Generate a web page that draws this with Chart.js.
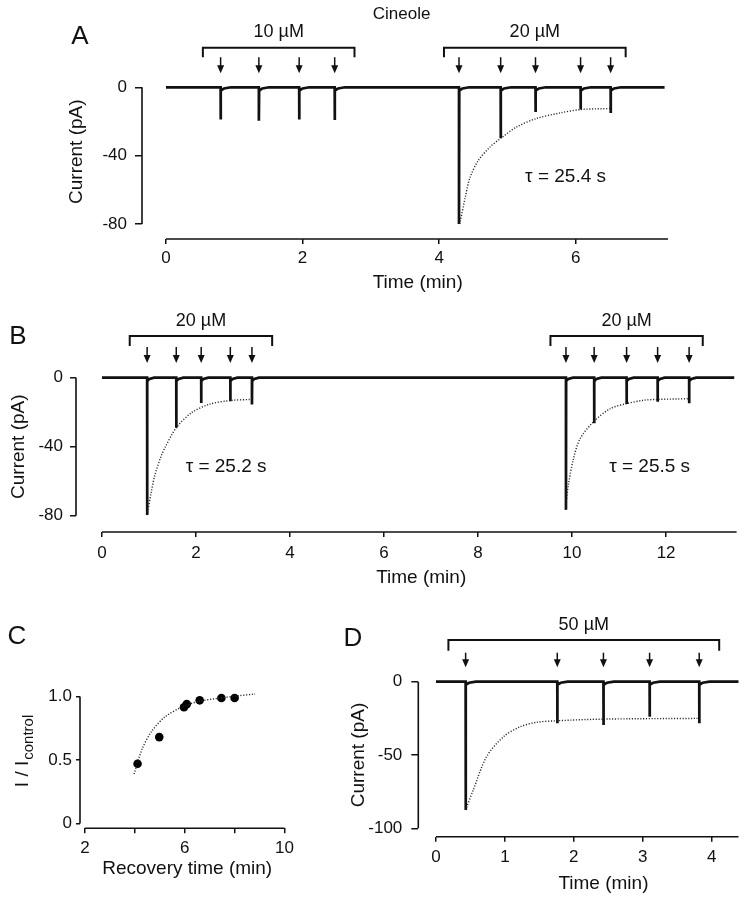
<!DOCTYPE html>
<html>
<head>
<meta charset="utf-8">
<script src="https://cdn.jsdelivr.net/npm/chart.js@4/dist/chart.umd.min.js"></script>
<style>
  body { margin: 0; background: #fff; }
  #fig { position: relative; width: 746px; height: 899px; overflow: hidden; }
  canvas { position: absolute; }
  .letter { position: absolute; font: 26px "Liberation Sans", Arial, sans-serif; color: #111; transform: translate(-50%, -50%); }
</style>
</head>
<body>
<div id="fig">
  <canvas id="chartA" width="690" height="300" style="left:0px;top:0px"></canvas>
  <canvas id="chartB" width="746" height="300" style="left:0px;top:290px"></canvas>
  <canvas id="chartC" width="320" height="299" style="left:0px;top:600px"></canvas>
  <canvas id="chartD" width="416" height="309" style="left:330px;top:590px"></canvas>
  <div class="letter" style="left:80px;top:35px">A</div>
  <div class="letter" style="left:18px;top:335px">B</div>
  <div class="letter" style="left:17px;top:635px">C</div>
  <div class="letter" style="left:353px;top:637px">D</div>
</div>
<script>
const FONT = '"Liberation Sans", Arial, Helvetica, sans-serif';
Chart.defaults.font.family = FONT;
Chart.defaults.color = '#111';

// ---- Panel A: cineole 10 uM and 20 uM (time in min, current in pA)
const spikeTimesA = [0.80, 1.36, 1.95, 2.47, 4.29, 4.90, 5.41, 6.07, 6.51];
const spikePeaksA = [-18.8, -19.6, -18.8, -19.2, -80, -29.6, -14.4, -13, -15];
const fitTimesA = [4.30, 4.38, 4.45, 4.57, 4.74, 4.91, 5.13, 5.42, 5.77, 6.08, 6.52];
const fitCurrentA = [-80, -64.7, -52.9, -43, -35.1, -29.6, -23.3, -18.3, -15, -13, -12.4];
const bracketsA = [[0.54, 2.76], [4.07, 6.73]];
const bracketLabelsA = ['10 µM', '20 µM'];
const xTicksA = [0, 2, 4, 6];
const yTicksA = [0, -40, -80];

// ---- Panel B: two 20 uM applications
const spikeTimesB = [0.96, 1.58, 2.11, 2.73, 3.19, 9.87, 10.47, 11.16, 11.82, 12.49];
const spikePeaksB = [-79.6, -29, -14.6, -13.6, -15.5, -76.5, -26.4, -15.3, -13.9, -14.8];
const fitTimesB1 = [0.96, 1.05, 1.12, 1.25, 1.35, 1.58, 1.9, 2.27, 2.73, 3.19];
const fitCurrentB1 = [-79.6, -66, -57, -46, -40, -29, -20.4, -15.5, -13.2, -12.6];
const fitTimesB2 = [9.86, 9.92, 10.03, 10.17, 10.45, 10.81, 11.15, 11.52, 11.8, 12.48];
const fitCurrentB2 = [-76.5, -62.4, -47, -35.4, -25.7, -18, -15.1, -13.1, -12.6, -12.2];
const bracketsB = [[0.59, 3.62], [9.54, 12.78]];
const bracketLabelsB = ['20 µM', '20 µM'];
const xTicksB = [0, 2, 4, 6, 8, 10, 12];
const yTicksB = [0, -40, -80];

// ---- Panel C: recovery
const recoveryTime = [4.11, 4.98, 5.97, 6.08, 6.6, 7.47, 8.0];
const recoveryRatio = [0.47, 0.68, 0.915, 0.94, 0.97, 0.988, 0.988];
const fitTimesC = [3.97, 4.3, 4.69, 5.21, 5.87, 6.52, 7.31, 8.1, 8.82];
const fitRatioC = [0.39, 0.59, 0.73, 0.84, 0.915, 0.96, 0.985, 1.005, 1.02];
const xTicksC = [2, 4, 6, 8, 10];
const xLabelsC = [2, 6, 10];
const yTicksC = [0, 0.5, 1.0];

// ---- Panel D: 50 uM
const spikeTimesD = [0.43, 1.76, 2.43, 3.1, 3.82];
const spikePeaksD = [-87.5, -28.4, -29.5, -23.9, -28.4];
const fitTimesD = [0.43, 0.54, 0.735, 0.98, 1.22, 1.46, 1.76, 2.43, 3.82];
const fitCurrentD = [-87.5, -73.9, -51, -37.5, -30.7, -27.7, -26.6, -25.5, -25];
const bracketsD = [[0.18, 4.11]];
const bracketLabelsD = ['50 µM'];
const xTicksD = [0, 1, 2, 3, 4];
const yTicksD = [0, -50, -100];

function pairs(xs, ys) {
  return xs.map((x, i) => ({ x: x, y: ys[i] }));
}

// recording trace: flat baseline with a fast inward spike at each application
function buildTrace(times, peaks, tEnd) {
  const pts = [{ x: 0, y: 0 }];
  times.forEach((t, i) => {
    pts.push({ x: t, y: 0 }, { x: t, y: peaks[i] }, { x: t + 0.004, y: -2 },
             { x: t + 0.05, y: -0.7 }, { x: t + 0.15, y: 0 });
  });
  pts.push({ x: tEnd, y: 0 });
  return pts;
}

function traceSet(data) {
  return { data: data, borderColor: '#111', borderWidth: 2.7, pointRadius: 0, tension: 0 };
}
function fitSet(data) {
  return { data: data, borderColor: '#222', borderWidth: 1.4, borderDash: [1.1, 1.7], pointRadius: 0, tension: 0.3 };
}

function panelPlugin(cfg) {
  return {
    id: 'panel',
    afterDraw(chart) {
      const ctx = chart.ctx, xs = chart.scales.x, ys = chart.scales.y;
      const px = v => xs.getPixelForValue(v), py = v => ys.getPixelForValue(v);
      const area = chart.chartArea;
      ctx.save();
      ctx.strokeStyle = '#111';
      ctx.fillStyle = '#111';
      // axis spines (bounded to the data range)
      ctx.lineWidth = 1.6;
      ctx.beginPath();
      ctx.moveTo(px(cfg.xSpine[0]), area.bottom);
      ctx.lineTo(px(cfg.xSpine[1]), area.bottom);
      ctx.moveTo(area.left, py(cfg.ySpine[0]));
      ctx.lineTo(area.left, py(cfg.ySpine[1]));
      ctx.stroke();
      // application brackets
      ctx.lineWidth = 2;
      ctx.textAlign = 'center';
      ctx.textBaseline = 'middle';
      ctx.font = '18px ' + FONT;
      (cfg.brackets || []).forEach((b, i) => {
        ctx.beginPath();
        ctx.moveTo(px(b[0]), py(cfg.bracketFoot));
        ctx.lineTo(px(b[0]), py(cfg.bracketTop));
        ctx.lineTo(px(b[1]), py(cfg.bracketTop));
        ctx.lineTo(px(b[1]), py(cfg.bracketFoot));
        ctx.stroke();
        ctx.fillText(cfg.bracketLabels[i], px((b[0] + b[1]) / 2), py(cfg.labelY));
      });
      // arrows
      ctx.lineWidth = 1.5;
      (cfg.arrows || []).forEach(t => {
        const x = px(t), y0 = py(cfg.arrowTop), y1 = py(cfg.arrowTip);
        ctx.beginPath();
        ctx.moveTo(x, y0);
        ctx.lineTo(x, y1 - 6);
        ctx.stroke();
        ctx.beginPath();
        ctx.moveTo(x - 3.5, y1 - 8);
        ctx.lineTo(x + 3.5, y1 - 8);
        ctx.lineTo(x, y1);
        ctx.closePath();
        ctx.fill();
      });
      // free notes
      (cfg.notes || []).forEach(n => {
        ctx.font = (n.size || 19) + 'px ' + FONT;
        ctx.fillText(n.text, px(n.x), py(n.y));
      });
      // axis titles
      ctx.font = '19px ' + FONT;
      ctx.fillText(cfg.xTitle.text, px(cfg.xTitle.x), area.bottom + cfg.xTitle.dy);
      ctx.translate(area.left - cfg.yTitle.dx, py(cfg.yTitle.y));
      ctx.rotate(-Math.PI / 2);
      if (cfg.yTitle.sub) {
        ctx.font = '19px ' + FONT;
        const wm = ctx.measureText(cfg.yTitle.text).width;
        ctx.font = '15px ' + FONT;
        const wsub = ctx.measureText(cfg.yTitle.sub).width;
        const x0 = -(wm + wsub) / 2;
        ctx.textAlign = 'left';
        ctx.font = '19px ' + FONT;
        ctx.fillText(cfg.yTitle.text, x0, 0);
        ctx.font = '15px ' + FONT;
        ctx.fillText(cfg.yTitle.sub, x0 + wm + 1, 6);
      } else {
        ctx.fillText(cfg.yTitle.text, 0, 0);
      }
      ctx.restore();
    }
  };
}

function makePanel(id, cfg) {
  return new Chart(document.getElementById(id), {
    type: 'line',
    data: { datasets: cfg.datasets },
    options: {
      responsive: false,
      animation: false,
      layout: { padding: 0 },
      plugins: { legend: { display: false }, tooltip: { enabled: false } },
      scales: {
        x: {
          type: 'linear', min: cfg.xMin, max: cfg.xMax,
          afterBuildTicks: s => { s.ticks = cfg.xTicks.map(v => ({ value: v })); },
          afterFit: s => { s.height = cfg.xHeight; s.paddingLeft = 0; s.paddingRight = 0; },
          grid: { drawOnChartArea: false, drawTicks: true, tickLength: 5, color: '#111', lineWidth: 1.5 },
          border: { display: false },
          ticks: { color: '#111', padding: cfg.xPad, font: { size: 17 }, maxRotation: 0, autoSkip: false,
                   callback: cfg.xFormat || (v => String(v)) }
        },
        y: {
          type: 'linear', min: cfg.yMin, max: cfg.yMax,
          afterBuildTicks: s => { s.ticks = cfg.yTicks.map(v => ({ value: v })); },
          afterFit: s => { s.width = cfg.yWidth; s.paddingTop = 0; s.paddingBottom = 0; },
          grid: { drawOnChartArea: false, drawTicks: true, tickLength: cfg.yTickLen, color: '#111', lineWidth: 1.5 },
          border: { display: false },
          ticks: { color: '#111', padding: cfg.yPad, font: { size: 17 }, autoSkip: false,
                   callback: cfg.yFormat || (v => String(v)) }
        }
      }
    },
    plugins: [panelPlugin(cfg)]
  });
}

makePanel('chartA', {
  datasets: [fitSet(pairs(fitTimesA, fitCurrentA)), traceSet(buildTrace(spikeTimesA, spikePeaksA, 7.3))],
  xMin: -0.351, xMax: 7.672, yMin: -88.77, yMax: 51.08,
  xTicks: xTicksA, yTicks: yTicksA, xHeight: 61, yWidth: 142,
  xPad: 4, yPad: 8, yTickLen: 7,
  xSpine: [0, 7.35], ySpine: [-80, 0],
  brackets: bracketsA, bracketLabels: bracketLabelsA, bracketTop: 23.2, bracketFoot: 17.6, labelY: 32.5,
  arrows: spikeTimesA, arrowTop: 17.6, arrowTip: 8.2,
  notes: [{ text: 'Cineole', x: 3.45, y: 42.9, size: 17 }, { text: 'τ = 25.4 s', x: 5.85, y: -52.3 }],
  xTitle: { text: 'Time (min)', x: 3.685, dy: 44 },
  yTitle: { text: 'Current (pA)', y: -37.7, dx: 65 }
});

makePanel('chartB', {
  datasets: [fitSet(pairs(fitTimesB1, fitCurrentB1)), fitSet(pairs(fitTimesB2, fitCurrentB2)),
             traceSet(buildTrace(spikeTimesB, spikePeaksB, 13.45))],
  xMin: -0.553, xMax: 13.70, yMin: -89.45, yMax: 50.84,
  xTicks: xTicksB, yTicks: yTicksB, xHeight: 58, yWidth: 76,
  xPad: 6, yPad: 7, yTickLen: 6,
  xSpine: [0, 13.5], ySpine: [-80, 0],
  brackets: bracketsB, bracketLabels: bracketLabelsB, bracketTop: 24.2, bracketFoot: 18.4, labelY: 33,
  arrows: spikeTimesB, arrowTop: 17.8, arrowTip: 8.5,
  notes: [{ text: 'τ = 25.2 s', x: 2.64, y: -51.5 }, { text: 'τ = 25.5 s', x: 11.65, y: -51.6 }],
  xTitle: { text: 'Time (min)', x: 6.79, dy: 46 },
  yTitle: { text: 'Current (pA)', y: -40, dx: 57 }
});

makePanel('chartC', {
  datasets: [
    fitSet(pairs(fitTimesC, fitRatioC)),
    { data: pairs(recoveryTime, recoveryRatio), showLine: false, pointRadius: 4.3,
      pointBackgroundColor: '#000', pointBorderWidth: 0 }
  ],
  xMin: 1.803, xMax: 11.25, yMin: -0.0387, yMax: 1.727,
  xTicks: xTicksC, yTicks: yTicksC, xHeight: 70.7, yWidth: 80,
  xPad: 5, yPad: 4, yTickLen: 4,
  xFormat: v => (xLabelsC.includes(v) ? String(v) : ''),
  yFormat: v => (v === 0 ? '0' : v.toFixed(1)),
  xSpine: [2, 10], ySpine: [0, 1.0],
  xTitle: { text: 'Recovery time (min)', x: 6.1, dy: 40 },
  yTitle: { text: 'I / I', sub: 'control', y: 0.567, dx: 57 }
});

makePanel('chartD', {
  datasets: [fitSet(pairs(fitTimesD, fitCurrentD)), traceSet(buildTrace(spikeTimesD, spikePeaksD, 4.39))],
  xMin: -0.257, xMax: 4.499, yMin: -105.7, yMax: 62.55,
  xTicks: xTicksD, yTicks: yTicksD, xHeight: 62.3, yWidth: 88.3,
  xPad: 5, yPad: 9, yTickLen: 7,
  xSpine: [0, 4.39], ySpine: [-100, 0],
  brackets: bracketsD, bracketLabels: bracketLabelsD, bracketTop: 28.4, bracketFoot: 21.1, labelY: 38.7,
  arrows: spikeTimesD, arrowTop: 19.8, arrowTip: 9.8,
  xTitle: { text: 'Time (min)', x: 2.43, dy: 46.6 },
  yTitle: { text: 'Current (pA)', y: -50, dx: 60 }
});
</script>
</body>
</html>
